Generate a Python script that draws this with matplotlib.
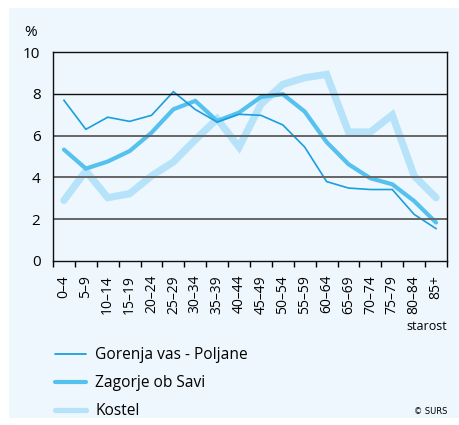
import numpy as np
import matplotlib.pyplot as plt
from matplotlib.patches import Rectangle
from matplotlib.lines import Line2D

plt.rcParams['font.family'] = ['Open Sans', 'DejaVu Sans']

# age groups and shares (%)
starost = ['0–4', '5–9', '10–14', '15–19', '20–24', '25–29', '30–34', '35–39', '40–44',
           '45–49', '50–54', '55–59', '60–64', '65–69', '70–74', '75–79', '80–84', '85+']
gorenja = [7.69, 6.30, 6.88, 6.68, 6.97, 8.10, 7.25, 6.65, 7.02,
           6.97, 6.51, 5.45, 3.80, 3.49, 3.42, 3.42, 2.23, 1.55]
zagorje = [5.33, 4.42, 4.76, 5.26, 6.14, 7.26, 7.66, 6.70, 7.10,
           7.85, 7.98, 7.15, 5.69, 4.63, 3.96, 3.67, 2.87, 1.84]
kostel = [2.90, 4.31, 3.03, 3.22, 4.07, 4.74, 5.80, 6.80, 5.45,
          7.50, 8.45, 8.77, 8.93, 6.17, 6.17, 6.99, 4.07, 3.03]
yticks = [0, 2, 4, 6, 8, 10]
names = ['Gorenja vas - Poljane', 'Zagorje ob Savi', 'Kostel']
colors = ['#1a9ee0', '#55c1ee', '#b6e3f9']

W, H = 459, 425
fig = plt.figure(figsize=(W/100, H/100), dpi=100, facecolor='white')
fig.patches.append(Rectangle((9/W, 1-418/H), 1-9/W, 410/H, transform=fig.transFigure,
                             facecolor='#eef7fd', edgecolor='none', zorder=-1))

ax = fig.add_axes([53/W, 1-261/H, 394/W, 209/H])
ax.set_zorder(2)
ax.set_facecolor('none')
x = np.arange(len(starost))

ax.plot(x, kostel, color=colors[2], lw=5.2, solid_capstyle='round', solid_joinstyle='miter', zorder=2)
ax.plot(x, zagorje, color=colors[1], lw=3.0, solid_capstyle='round', solid_joinstyle='miter', zorder=2)
ax.plot(x, gorenja, color=colors[0], lw=1.2, solid_joinstyle='miter', zorder=2)

for v in [2, 4, 6]:
    ax.axhline(v, color='#666666', lw=1.4, zorder=3)
ax.axhline(8, color='#111111', lw=1.0, zorder=3)

ax.set_xlim(-0.5, len(starost)-0.5)
ax.set_ylim(0, 10)
ax.set_yticks(yticks)
ax.set_yticklabels([str(v) for v in yticks], fontsize=11)
ax.tick_params(axis='y', length=0, pad=9)

ax.set_xticks(np.arange(len(starost)+1)-0.5)
ax.set_xticklabels([])
ax.tick_params(axis='x', which='major', length=4.5, width=1, direction='out')
ax.set_xticks(x, minor=True)
ax.set_xticklabels(starost, minor=True, rotation=90, fontsize=10)
ax.tick_params(axis='x', which='minor', length=0, pad=10)

for s in ax.spines.values():
    s.set_linewidth(1.0)
    s.set_color('#111111')
    s.set_zorder(4)

fig.text(24/W, 1-32/H, '%', fontsize=11, va='center', ha='left')
fig.text(447/W, 1-326/H, 'starost', fontsize=9, va='center', ha='right')
fig.text(447/W, 1-411/H, '© SURS', fontsize=6, va='center', ha='right', family='DejaVu Sans')

handles = [Line2D([], [], color=c, lw=w, solid_capstyle='round')
           for c, w in zip(colors, [1.3, 3.0, 3.8])]
fig.legend(handles, names,
           loc='upper left', bbox_to_anchor=(55/W, 1-347/H), frameon=False,
           fontsize=11.2, handlelength=2.0, handletextpad=0.6, labelspacing=0.78,
           borderaxespad=0, borderpad=0)

fig.savefig('out.png', dpi=100, facecolor='white')
